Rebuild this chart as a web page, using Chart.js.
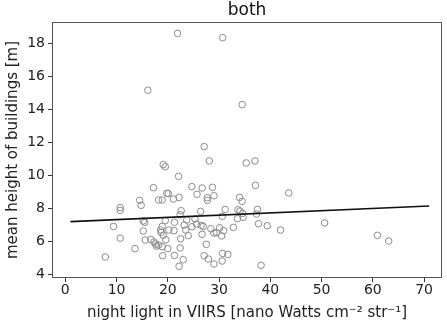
<!DOCTYPE html>
<html>
<head>
<meta charset="utf-8">
<script src="https://cdn.jsdelivr.net/npm/chart.js@4.4.1/dist/chart.umd.min.js"></script>
<style>
html,body{margin:0;padding:0;background:#fff;}
#wrap{width:447px;height:323px;position:relative;}
</style>
</head>
<body>
<div id="wrap"><canvas id="c" width="447" height="323"></canvas></div>
<script>
const chartTitle = "both";
const xAxisTitle = "night light in VIIRS [nano Watts cm\u207B\u00B2 str\u207B\u00B9]";
const yAxisTitle = "mean height of buildings [m]";

const nightLight = [21.9,30.7,16.1,34.5,27.1,28.1,35.3,37.0,19.1,19.5,22.1,37.1,17.2,24.7,26.7,28.7,19.8,20.1,25.7,29.0,43.6,22.2,21.1,18.2,18.9,14.5,14.8,27.7,27.7,34.0,34.5,10.7,10.7,22.6,31.2,26.4,33.7,34.1,37.5,37.3,34.6,33.6,34.7,30.6,22.4,15.2,15.5,19.5,21.3,23.7,25.3,23.2,24.7,25.6,26.5,28.4,30.1,30.9,32.8,37.7,39.4,42.0,50.6,9.4,18.9,18.6,20.2,21.2,23.5,26.9,15.2,18.7,26.7,29.0,29.5,30.5,24.0,19.1,60.9,63.1,10.7,15.6,16.7,19.6,22.5,17.3,17.6,17.8,18.2,18.9,27.5,13.6,20.0,22.4,7.8,19.0,21.3,27.1,30.7,31.7,27.9,23.0,30.6,29.0,22.2,38.2];
const buildingHeight = [18.6,18.34,15.15,14.28,11.73,10.86,10.74,10.86,10.64,10.51,9.93,9.38,9.24,9.30,9.22,9.26,8.90,8.88,8.84,8.75,8.92,8.65,8.55,8.49,8.49,8.47,8.17,8.63,8.47,8.65,8.41,8.03,7.86,7.84,7.92,7.80,7.90,7.82,7.92,7.64,7.68,7.36,7.44,7.50,7.60,7.22,7.14,7.24,7.14,7.28,7.34,6.97,6.87,7.03,6.95,6.75,6.81,6.63,6.83,7.05,6.93,6.67,7.10,6.89,6.89,6.67,6.67,6.63,6.67,6.89,6.61,6.53,6.41,6.49,6.51,6.31,6.33,6.35,6.35,6.00,6.18,6.06,6.10,6.08,6.14,5.94,5.82,5.70,5.76,5.66,5.80,5.54,5.54,5.58,5.03,5.11,5.13,5.11,5.25,5.19,4.91,4.87,4.79,4.61,4.47,4.53];

const fitX = [1, 71];
const fitY = [7.18, 8.13];

const xTicks = [0,10,20,30,40,50,60,70];
const yTicks = [4,6,8,10,12,14,16,18];

const scatterPts = nightLight.map((x,i)=>({x:x, y:buildingHeight[i]}));
const fitPts = fitX.map((x,i)=>({x:x, y:fitY[i]}));

const FONT = "'DejaVu Sans', sans-serif";

const framePlugin = {
  id:'frame',
  afterDraw(chart){
    const a = chart.chartArea, ctx = chart.ctx;
    ctx.save();
    ctx.strokeStyle = '#555';
    ctx.lineWidth = 1;
    ctx.strokeRect(Math.round(a.left)+0.5, Math.round(a.top)+0.5, Math.round(a.right-a.left)-1, Math.round(a.bottom-a.top)-1);
    ctx.fillStyle = '#111';
    ctx.font = "17px " + FONT;
    ctx.textAlign = 'center';
    ctx.textBaseline = 'middle';
    ctx.fillText(chartTitle, (a.left+a.right)/2, 11);
    ctx.restore();
  }
};

new Chart(document.getElementById('c'), {
  type:'scatter',
  data:{
    datasets:[
      {
        label:'points',
        data:scatterPts,
        pointStyle:'circle',
        pointRadius:3.3,
        pointBorderWidth:1,
        borderColor:'#8a8a8a',
        backgroundColor:'rgba(0,0,0,0)',
        pointBackgroundColor:'rgba(0,0,0,0)',
        pointBorderColor:'#8a8a8a',
        order:2
      },
      {
        type:'line',
        label:'fit',
        data:fitPts,
        borderColor:'#111',
        borderWidth:1.6,
        pointRadius:0,
        fill:false,
        order:1
      }
    ]
  },
  options:{
    responsive:false,
    animation:false,
    events:[],
    layout:{padding:{top:22,right:5,left:0,bottom:0}},
    plugins:{legend:{display:false},title:{display:false},tooltip:{enabled:false}},
    scales:{
      x:{
        type:'linear',
        min:-2.6, max:73.5,
        afterBuildTicks(s){ s.ticks = xTicks.map(v=>({value:v})); },
        afterFit(s){ s.height = 45; },
        border:{display:false},
        grid:{drawOnChartArea:false, drawTicks:true, tickLength:4, color:'#333'},
        ticks:{color:'#222', font:{family:FONT,size:14}, padding:0, maxRotation:0, autoSkip:false},
        title:{display:true, text:xAxisTitle, color:'#222', font:{family:FONT,size:15}, padding:{top:0,bottom:1}}
      },
      y:{
        type:'linear',
        min:3.76, max:19.29,
        afterBuildTicks(s){ s.ticks = yTicks.map(v=>({value:v})); },
        afterFit(s){ s.width = 52; },
        border:{display:false},
        grid:{drawOnChartArea:false, drawTicks:true, tickLength:4, color:'#333'},
        ticks:{color:'#222', font:{family:FONT,size:14}, padding:3, autoSkip:false},
        title:{display:true, text:yAxisTitle, color:'#222', font:{family:FONT,size:15}, padding:{top:4,bottom:0}}
      }
    }
  },
  plugins:[framePlugin]
});
</script>
</body>
</html>
